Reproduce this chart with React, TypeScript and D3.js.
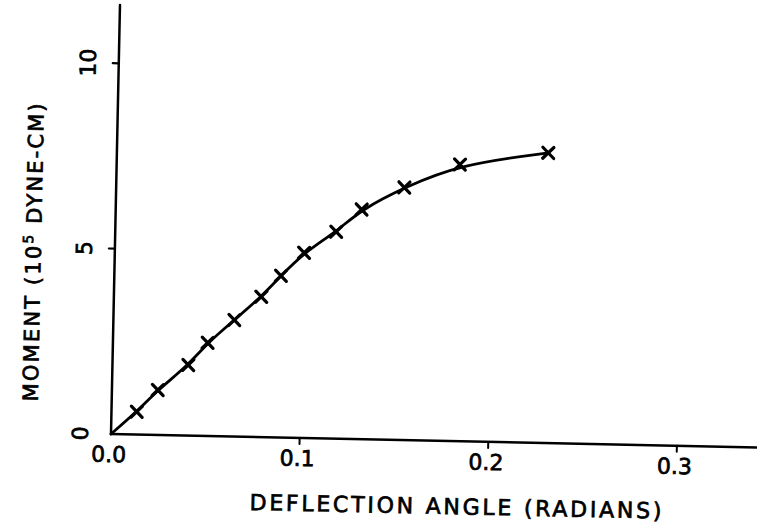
import React from "react";
import * as d3 from "d3";

const angleValues = [0.0134, 0.0243, 0.0402, 0.0502, 0.0641, 0.0781, 0.0883, 0.1003, 0.1171, 0.1303, 0.1527, 0.1819, 0.2286];
const momentValues = [0.615, 1.212, 1.903, 2.515, 3.142, 3.785, 4.362, 4.995, 5.579, 6.197, 6.814, 7.465, 7.827];
const xTickValues = [0, 0.1, 0.2, 0.3];
const xTickLabels = ["0.0", "0.1", "0.2", "0.3"];
const yTickValues = [0, 5, 10];
const yTickLabels = ["0", "5", "10"];

const W = 757;
const H = 531;
const OX = 111;
const OY = 434;
const ROT = 1.2;
const FONT = "'DejaVu Sans', sans-serif";

export default function App() {
  const x = d3.scaleLinear().domain([0, 0.3424]).range([0, 646]);
  const y = d3.scaleLinear().domain([0, 11.57]).range([0, -429]);

  const pts: [number, number][] = [[0, 0], ...angleValues.map((a, i) => [a, momentValues[i]] as [number, number])];
  const line = d3
    .line<[number, number]>()
    .x((d) => x(d[0]))
    .y((d) => y(d[1]))
    .curve(d3.curveBasis);

  const m = 5.5;
  const textProps = { stroke: "#000", strokeWidth: 0.7, fill: "#000", fontFamily: FONT };
  return (
    <svg width={W} height={H} style={{ position: "absolute", left: 0, top: 0, background: "#fff" }}>
      <g transform={`translate(${OX},${OY}) rotate(${ROT})`} fill="none" stroke="#000" strokeLinecap="round">
        <line x1={0} y1={0} x2={0} y2={y(11.57)} strokeWidth={2.5} />
        <line x1={0} y1={0} x2={x(0.36)} y2={0} strokeWidth={2.5} />
        {xTickValues.map((v, i) => (
          <g key={"xt" + i}>
            {i > 0 && <line x1={x(v)} y1={0} x2={x(v)} y2={6} strokeWidth={2} />}
            <text x={x(v) - 2} y={28} {...textProps} fontSize={22} textAnchor="middle">
              {xTickLabels[i]}
            </text>
          </g>
        ))}
        {yTickValues.map((v, i) => (
          <g key={"yt" + i}>
            {i > 0 && <line x1={0} y1={y(v)} x2={-6} y2={y(v)} strokeWidth={2.2} />}
            <text transform={`translate(-23,${y(v)}) rotate(-90)`} {...textProps} fontSize={22} textAnchor="middle">
              {yTickLabels[i]}
            </text>
          </g>
        ))}
        <path d={line(pts) || ""} strokeWidth={2.8} />
        {angleValues.map((a, i) => {
          const cx = x(a);
          const cy = y(momentValues[i]);
          return (
            <g key={"m" + i} strokeWidth={3.2}>
              <line x1={cx - m} y1={cy - m} x2={cx + m} y2={cy + m} />
              <line x1={cx - m} y1={cy + m} x2={cx + m} y2={cy - m} />
            </g>
          );
        })}
        <text
          x={346}
          y={73}
          {...textProps}
          fontSize={22}
          textAnchor="middle"
          textLength={412}
          lengthAdjust="spacing"
        >
          DEFLECTION ANGLE (RADIANS)
        </text>
        <text
          transform={`translate(-74,-180) rotate(-90)`}
          {...textProps}
          fontSize={21}
          textAnchor="middle"
          textLength={298}
          lengthAdjust="spacing"
        >
          MOMENT (10
          <tspan dy={-8} fontSize={14}>5</tspan>
          <tspan dy={8}> DYNE-CM)</tspan>
        </text>
      </g>
    </svg>
  );
}
